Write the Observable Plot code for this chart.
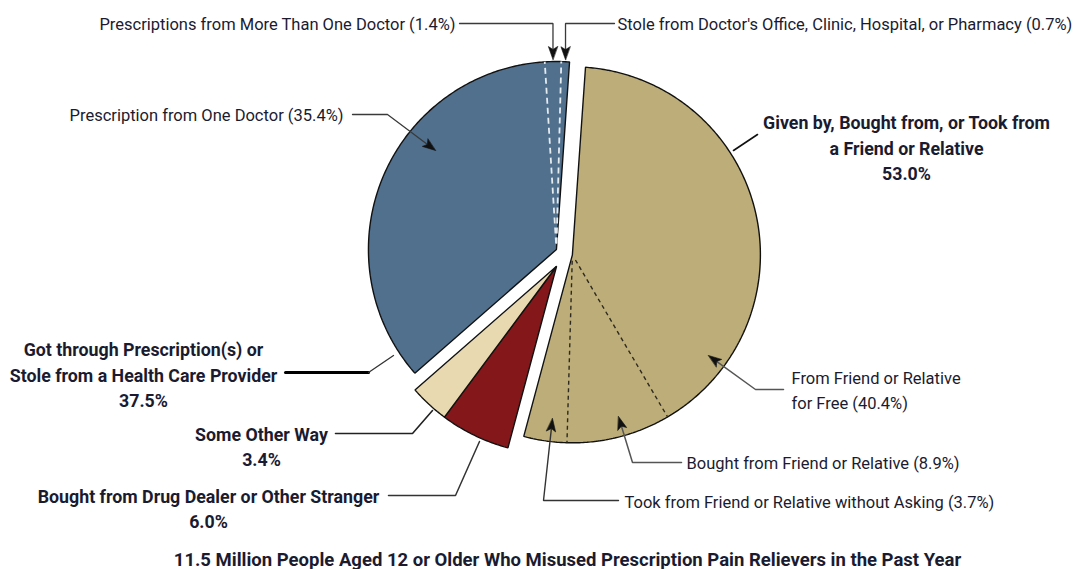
<!DOCTYPE html>
<html><head><meta charset="utf-8">
<script src="https://cdn.jsdelivr.net/npm/d3@7"></script>
<script src="https://cdn.jsdelivr.net/npm/@observablehq/plot@0.6"></script>
<style>
body{margin:0;background:#fff}
#chart svg{display:block}
</style>
</head><body><div id="chart"></div>
<script>
// ---------- data ----------
const groupNames = [
  "Given by, Bought from, or Took from\na Friend or Relative",
  "Bought from Drug Dealer or Other Stranger",
  "Some Other Way",
  "Got through Prescription(s) or\nStole from a Health Care Provider"
];
const groupValues = [53.0, 6.0, 3.4, 37.5];
const groupColors = ["#bcad79", "#84171a", "#e8d9b0", "#50708d"];

const friendSubNames = ["From Friend or Relative\nfor Free", "Bought from Friend or Relative", "Took from Friend or Relative without Asking"];
const friendSubValues = [40.4, 8.9, 3.7];
const rxSubNames = ["Prescription from One Doctor", "Prescriptions from More Than One Doctor", "Stole from Doctor's Office, Clinic, Hospital, or Pharmacy"];
const rxSubValues = [35.4, 1.4, 0.7];

const chartTitle = "11.5 Million People Aged 12 or Older Who Misused Prescription Pain Relievers in the Past Year";

// ---------- layout ----------
const W = 1077, H = 569;
const CX = 564, CY = 253, R = 188, ROT = 4 * Math.PI / 180;
const explodeCluster = [0, 1, 1, 2];   // the two small slices are pulled out together
const explodeDist = [8, 15, 9];
const FONT = "Roboto, 'Liberation Sans', sans-serif";
const TEXT = "#1b1b30";

// ---------- geometry from data ----------
const arcs = d3.pie().sort(null).startAngle(ROT).endAngle(ROT + 2 * Math.PI)(groupValues);
const apex = groupValues.map((v, i) => {
  const c = explodeCluster[i];
  const members = arcs.filter((a, j) => explodeCluster[j] === c);
  const mid = (d3.min(members, a => a.startAngle) + d3.max(members, a => a.endAngle)) / 2;
  const d = explodeDist[c];
  return [CX + d * Math.sin(mid), CY - d * Math.cos(mid)];
});
const polar = (i, ang, r) => [apex[i][0] + r * Math.sin(ang), apex[i][1] - r * Math.cos(ang)];

const slicePts = [];
arcs.forEach((a, i) => {
  const name = groupNames[i];
  slicePts.push({name, x: apex[i][0], y: apex[i][1]});
  const n = Math.ceil((a.endAngle - a.startAngle) / 0.01);
  for (let k = 0; k <= n; k++) {
    const [x, y] = polar(i, a.startAngle + (a.endAngle - a.startAngle) * k / n, R);
    slicePts.push({name, x, y});
  }
});

function subAngles(i, subs) {
  const a = arcs[i], span = a.endAngle - a.startAngle, tot = d3.sum(subs);
  let cum = 0;
  return subs.map(v => { const s = a.startAngle + span * cum / tot; cum += v; return [s, a.startAngle + span * cum / tot]; });
}
const friendAng = subAngles(0, friendSubValues);
const rxAng = subAngles(3, rxSubValues);

const divider = (i, ang, kind) => {
  const [x1, y1] = polar(i, ang, 6), [x2, y2] = polar(i, ang, R);
  return {x1, y1, x2, y2, kind};
};
const dividers = [
  ...friendAng.slice(1).map(([s]) => divider(0, s, "friend")),
  ...rxAng.slice(1).map(([s]) => divider(3, s, "rx"))
];

// ---------- annotations ----------
const tipMore = polar(3, (rxAng[1][0] + rxAng[1][1]) / 2, R + 2);
const tipStole = polar(3, (rxAng[2][0] + rxAng[2][1]) / 2, R + 2);
const leaderLayout = [
  {key: "more", pts: [[459, 23], [tipMore[0], 23], tipMore], arrow: true, color: "#3a3a3a", w: 1.3},
  {key: "stole", pts: [[614, 23], [tipStole[0], 23], tipStole], arrow: true, color: "#3a3a3a", w: 1.3},
  {key: "one", pts: [[352, 114], [387, 114], [435, 150]], arrow: true, color: "#3a3a3a", w: 1.3},
  {key: "given", pts: [[757, 134], [733, 150]], color: "#111", w: 1.6},
  {key: "free", pts: [[783, 389], [755, 389], [708, 355]], arrow: true, color: "#555", w: 1.5},
  {key: "bought", pts: [[681, 462], [632, 462], [618, 416]], arrow: true, color: "#555", w: 1.5},
  {key: "took", pts: [[618, 500], [543, 500], [552, 418]], arrow: true, color: "#333", w: 1.4},
  {key: "got-h", pts: [[285, 372], [368, 372]], color: "#000", w: 3},
  {key: "got-d", pts: [[368, 372], [393, 355]], color: "#333", w: 1.3},
  {key: "other", pts: [[335, 433], [412, 433], [432, 410]], color: "#222", w: 1.6},
  {key: "dealer", pts: [[388, 495], [455, 495], [479, 441]], color: "#333", w: 1.5}
];

const pct = v => v.toFixed(1) + "%";
const labels = [
  {text: `${rxSubNames[1]} (${pct(rxSubValues[1])})`, x: 455, y: 22, anchor: "end"},
  {text: `${rxSubNames[2]} (${pct(rxSubValues[2])})`, x: 617, y: 22, anchor: "start"},
  {text: `${rxSubNames[0]} (${pct(rxSubValues[0])})`, x: 343, y: 113, anchor: "end"},
  {text: `${groupNames[0]}\n${pct(groupValues[0])}`, x: 906, y: 146, anchor: "middle", bold: true},
  {text: `${friendSubNames[0]} (${pct(friendSubValues[0])})`, x: 791, y: 388, anchor: "start"},
  {text: `${friendSubNames[1]} (${pct(friendSubValues[1])})`, x: 686, y: 461, anchor: "start"},
  {text: `${friendSubNames[2]} (${pct(friendSubValues[2])})`, x: 624, y: 500, anchor: "start"},
  {text: `${groupNames[3]}\n${pct(groupValues[3])}`, x: 143, y: 373, anchor: "middle", bold: true},
  {text: `${groupNames[2]}\n${pct(groupValues[2])}`, x: 261, y: 445, anchor: "middle", bold: true},
  {text: `${groupNames[1]}\n${pct(groupValues[1])}`, x: 208, y: 507, anchor: "middle", bold: true},
  {text: chartTitle, x: 567, y: 557, anchor: "middle", bold: true, size: 18.5}
];

// leader polylines + filled arrowheads
const leaderPts = [], heads = [];
leaderLayout.forEach(l => {
  const pts = l.pts.map(p => p.slice());
  if (l.arrow) {
    const tip = pts[pts.length - 1], prev = pts[pts.length - 2];
    const dx = tip[0] - prev[0], dy = tip[1] - prev[1], len = Math.hypot(dx, dy);
    const ux = dx / len, uy = dy / len, nx = -uy, ny = ux, L = 13, Wd = 4.6;
    heads.push({key: l.key, x: tip[0], y: tip[1]});
    heads.push({key: l.key, x: tip[0] - L * ux + Wd * nx, y: tip[1] - L * uy + Wd * ny});
    heads.push({key: l.key, x: tip[0] - L * ux * 0.78, y: tip[1] - L * uy * 0.78});
    heads.push({key: l.key, x: tip[0] - L * ux - Wd * nx, y: tip[1] - L * uy - Wd * ny});
    pts[pts.length - 1] = [tip[0] - L * ux * 0.8, tip[1] - L * uy * 0.8];
  }
  pts.forEach(p => leaderPts.push({key: l.key, x: p[0], y: p[1]}));
});

const marks = [
  Plot.line(slicePts, {x: "x", y: "y", z: "name", fill: "name", stroke: "#111", strokeWidth: 1.4, curve: "linear-closed", strokeLinejoin: "miter"}),
  Plot.link(dividers.filter(d => d.kind === "friend"), {x1: "x1", y1: "y1", x2: "x2", y2: "y2", stroke: "#2e2a20", strokeWidth: 1.4, strokeDasharray: "4,3.5"}),
  Plot.link(dividers.filter(d => d.kind === "rx"), {x1: "x1", y1: "y1", x2: "x2", y2: "y2", stroke: "#e6ebf0", strokeWidth: 1.8, strokeDasharray: "6,4"}),
  ...leaderLayout.map(l => Plot.line(leaderPts.filter(p => p.key === l.key), {x: "x", y: "y", stroke: l.color, strokeWidth: l.w, strokeLinejoin: "miter"})),
  Plot.line(heads, {x: "x", y: "y", z: "key", fill: "#111", stroke: "#111", strokeWidth: 0.6, curve: "linear-closed"}),
  ...labels.map(l => Plot.text([l], {
    x: "x", y: "y", text: "text", textAnchor: l.anchor, lineAnchor: "middle",
    fontFamily: FONT, fontSize: l.size || (l.bold ? 17.8 : 16.5), fontWeight: l.bold ? "bold" : "normal",
    lineHeight: l.bold ? 1.43 : 1.5, fill: TEXT
  }))
];

const chart = Plot.plot({
  width: W, height: H, margin: 0,
  x: {domain: [0, W], range: [0, W], axis: null},
  y: {domain: [0, H], range: [0, H], axis: null},
  color: {type: "ordinal", domain: groupNames, range: groupColors},
  style: {background: "#fff", overflow: "visible"},
  marks
});
document.getElementById("chart").append(chart);
</script>
</body></html>
